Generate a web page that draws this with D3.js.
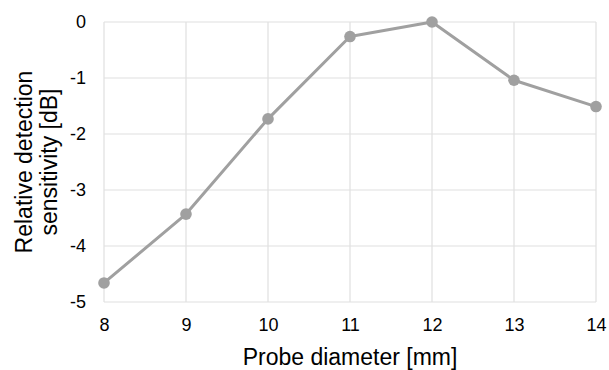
<!DOCTYPE html>
<html>
<head>
<meta charset="utf-8">
<script src="https://cdn.jsdelivr.net/npm/d3@7"></script>
<style>
  body { margin: 0; background: #fff; }
  text { font-family: "Liberation Sans", Arial, sans-serif; fill: #000; }
</style>
</head>
<body>
<div id="chart"></div>
<script>
// probe diameter [mm] vs relative detection sensitivity [dB]
var diameters = [8, 9, 10, 11, 12, 13, 14];
var sensitivity = [-4.66, -3.43, -1.73, -0.26, 0, -1.04, -1.51];
var xTicks = [8, 9, 10, 11, 12, 13, 14];
var yTicks = [0, -1, -2, -3, -4, -5];

var width = 609, height = 370;
var margin = {top: 22, right: 13, bottom: 68, left: 104};

var svg = d3.select('#chart').append('svg')
  .attr('width', width)
  .attr('height', height);

var x = d3.scaleLinear()
  .domain([8, 14])
  .range([margin.left, width - margin.right]);

var y = d3.scaleLinear()
  .domain([-5, 0])
  .range([height - margin.bottom, margin.top]);

// grid
svg.append('g')
  .selectAll('line.v')
  .data(xTicks)
  .enter().append('line')
  .attr('x1', function (d) { return x(d); })
  .attr('x2', function (d) { return x(d); })
  .attr('y1', y(0))
  .attr('y2', y(-5))
  .attr('stroke', '#e0e0e0')
  .attr('stroke-width', 1.2);

svg.append('g')
  .selectAll('line.h')
  .data(yTicks)
  .enter().append('line')
  .attr('x1', x(8))
  .attr('x2', x(14))
  .attr('y1', function (d) { return y(d); })
  .attr('y2', function (d) { return y(d); })
  .attr('stroke', '#e0e0e0')
  .attr('stroke-width', 1.2);

// axes, labels only (plain hyphen for negatives, like the original)
var plain = function (d) { return String(d); };

var xAxis = svg.append('g')
  .attr('transform', 'translate(0,' + y(-5) + ')')
  .call(d3.axisBottom(x).tickValues(xTicks).tickSize(0).tickPadding(16).tickFormat(plain));
xAxis.select('.domain').remove();
xAxis.selectAll('text').style('font-size', '18px').attr('fill', '#000');

var yAxis = svg.append('g')
  .attr('transform', 'translate(' + x(8) + ',0)')
  .call(d3.axisLeft(y).tickValues(yTicks).tickSize(0).tickPadding(18).tickFormat(plain));
yAxis.select('.domain').remove();
yAxis.selectAll('text').style('font-size', '18px').attr('fill', '#000');

// axis titles
svg.append('text')
  .attr('x', (x(8) + x(14)) / 2)
  .attr('y', 365)
  .attr('text-anchor', 'middle')
  .style('font-size', '23px')
  .text('Probe diameter [mm]');

var yTitle = svg.append('text')
  .attr('transform', 'translate(32,' + (y(0) + y(-5)) / 2 + ') rotate(-90)')
  .attr('text-anchor', 'middle')
  .style('font-size', '23px');
yTitle.append('tspan').attr('x', 0).attr('dy', 0).text('Relative detection');
yTitle.append('tspan').attr('x', 0).attr('dy', 25).text('sensitivity [dB]');

// series
var line = d3.line()
  .x(function (d, i) { return x(diameters[i]); })
  .y(function (d) { return y(d); });

svg.append('path')
  .datum(sensitivity)
  .attr('d', line)
  .attr('fill', 'none')
  .attr('stroke', '#a0a0a0')
  .attr('stroke-width', 3)
  .attr('stroke-linejoin', 'round');

svg.append('g')
  .selectAll('circle')
  .data(sensitivity)
  .enter().append('circle')
  .attr('cx', function (d, i) { return x(diameters[i]); })
  .attr('cy', function (d) { return y(d); })
  .attr('r', 5.8)
  .attr('fill', '#a0a0a0');
</script>
</body>
</html>
